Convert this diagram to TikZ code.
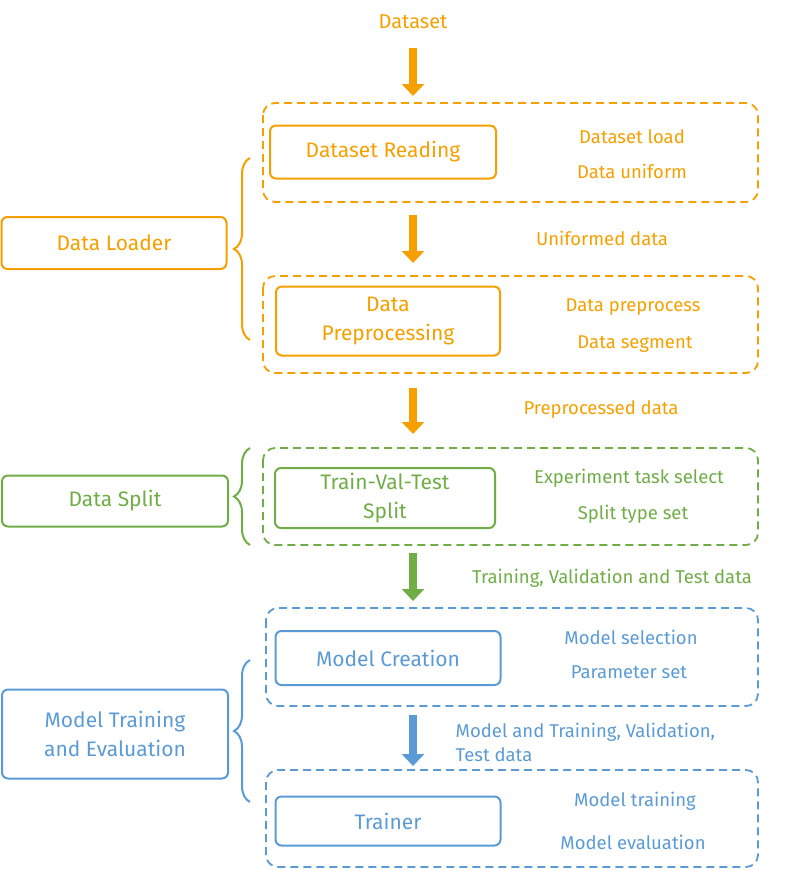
\documentclass[tikz,border=0pt]{standalone}
\usepackage{fontspec}
\setmainfont{Fira Sans}
\usetikzlibrary{positioning, decorations.pathreplacing, arrows.meta}
\definecolor{orng}{RGB}{245,160,0}
\definecolor{grn}{RGB}{112,173,71}
\definecolor{blu}{RGB}{91,155,213}
\begin{document}
\begin{tikzpicture}[x=1pt, y=-1pt, thick]
  \tikzset{
    stage/.style={draw, rounded corners=6pt, line width=2pt, minimum height=#1, inner sep=0pt, align=center, font=\fontsize{21}{29}\selectfont},
    group/.style={draw, dash pattern=on 8pt off 5pt, rounded corners=12pt, line width=1.8pt},
    side/.style={font=\fontsize{18.5}{24}\selectfont},
    flow/.style={-{Triangle[length=12pt, width=22pt]}, line width=8pt},
    brc/.style={decorate, decoration={brace, amplitude=16pt}, line width=2pt}
  }
  \useasboundingbox (0,0) rectangle (800,870);
  % data loader
  \begin{scope}[orng]
  \node[side, font=\fontsize{20}{24}\selectfont] (ds) at (413,22) {Dataset};
  \draw[group] (263,103) rectangle (758,202);
  \node[stage=53pt, minimum width=226pt] (read) at (383,152) {Dataset Reading};
  \node[side] (t1) at (632,137) {Dataset load};
  \node[side] (t2) at (632,171) {Data uniform};
  \draw[group] (263,276) rectangle (758,373);
  \node[stage=69pt, minimum width=224pt] (prep) at (388,321) {Data\\Preprocessing};
  \node[side] (t3) at (633,307) {Data preprocess};
  \node[side] (t4) at (635,344) {Data segment};
  \node[side] (u) at (602,238) {Uniformed data};
  \node[side] (p) at (601,410) {Preprocessed data};
  \node[stage=52pt, minimum width=225pt] (loader) at (114,243) {Data Loader};
  \coordinate (a1) at (413,48); \coordinate (a2) at (413,96);
  \coordinate (a3) at (413,215); \coordinate (a4) at (413,263);
  \coordinate (a5) at (413,388); \coordinate (a6) at (413,434);
  \draw[flow] (a1) -- (a2);
  \draw[flow] (a3) -- (a4);
  \draw[flow] (a5) -- (a6);
  \draw[brc] (250,340) -- (250,158);
  \end{scope}
  % data split
  \begin{scope}[grn]
  \draw[group] (263,448) rectangle (758,545);
  \node[stage=60pt, minimum width=220pt] (split) at (385,498) {Train-Val-Test\\Split};
  \node[side] (t5) at (629,478) {Experiment task select};
  \node[side] (t6) at (633,514) {Split type set};
  \node[stage=51pt, minimum width=226pt] (dsplit) at (115,501) {Data Split};
  \draw[brc] (250,545) -- (250,448);
  \coordinate (b1) at (413,553); \coordinate (b2) at (413,601);
  \draw[flow] (b1) -- (b2);
  \node[side] (tv) at (612,578) {Training, Validation and Test data};
  \end{scope}
  % model training
  \begin{scope}[blu]
  \draw[group] (266,608) rectangle (758,706);
  \node[stage=54pt, minimum width=225pt] (create) at (388,658) {Model Creation};
  \node[side] (t7) at (631,637) {Model selection};
  \node[side] (t8) at (629,672) {Parameter set};
  \draw[group] (266,770) rectangle (758,867);
  \node[stage=49pt, minimum width=225pt] (trainer) at (388,821) {Trainer};
  \node[side] (t9) at (635,801) {Model training};
  \node[side] (t10) at (633,842) {Model evaluation};
  \node[stage=89pt, minimum width=226pt] (mte) at (115,734) {Model Training\\and Evaluation};
  \draw[brc] (250,802) -- (250,660);
  \coordinate (c1) at (413,715); \coordinate (c2) at (413,766);
  \draw[flow] (c1) -- (c2);
  \node[side, align=left, anchor=west] (mt) at (452,742) {Model and Training, Validation,\\Test data};
  \end{scope}
\end{tikzpicture}
\end{document}
